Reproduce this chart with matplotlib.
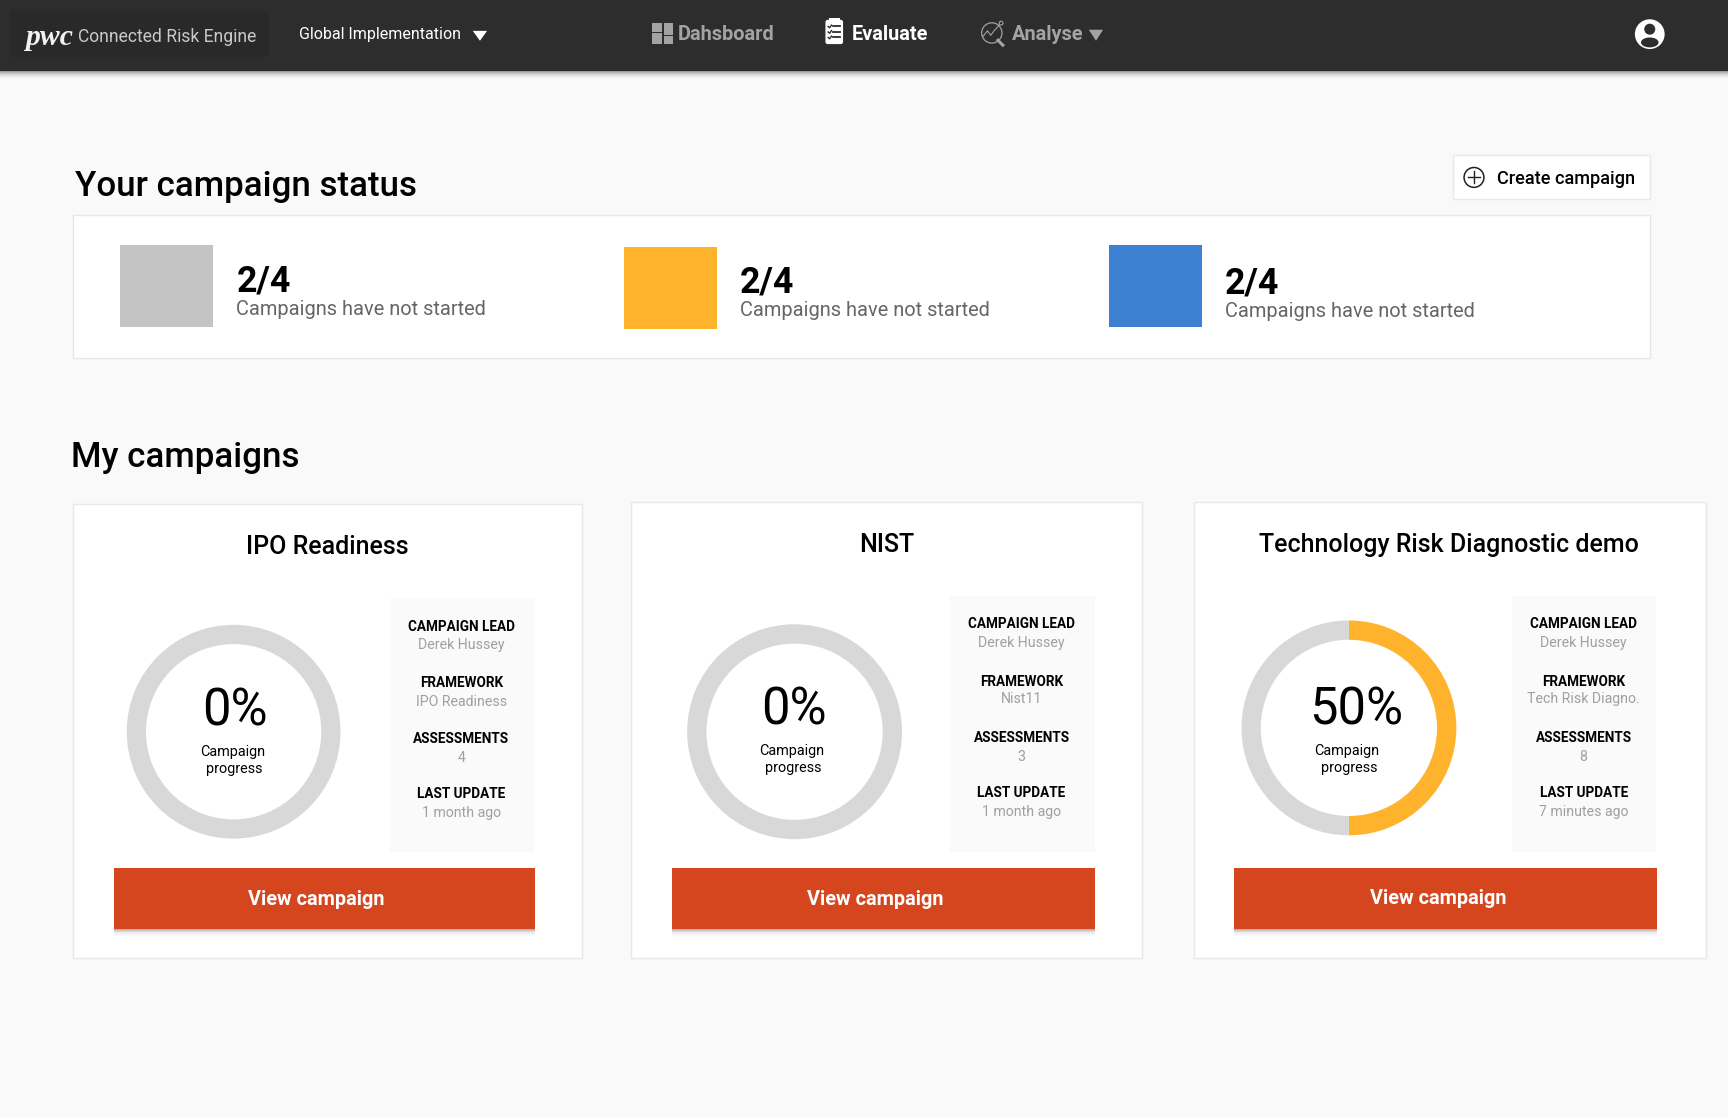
import matplotlib
matplotlib.use("Agg")
import matplotlib.pyplot as plt
from matplotlib.patches import Rectangle, Circle, Polygon, FancyBboxPatch, Ellipse

# ---------- data ----------
status_values = ["2/4", "2/4", "2/4"]
status_labels = ["Campaigns have not started"] * 3
status_colors = ["#c4c4c4", "#ffb32c", "#3d7fd0"]
campaign_titles = ["IPO Readiness", "NIST", "Technology Risk Diagnostic demo"]
campaign_progress = [0, 0, 50]
campaign_leads = ["Derek Hussey", "Derek Hussey", "Derek Hussey"]
campaign_frameworks = ["IPO Readiness", "Nist11", "Tech Risk Diagno."]
campaign_assessments = ["4", "3", "8"]
campaign_updates = ["1 month ago", "1 month ago", "7 minutes ago"]
detail_heads = ["CAMPAIGN LEAD", "FRAMEWORK", "ASSESSMENTS", "LAST UPDATE"]

# ---------- layout (reference picture units, 1568 wide) ----------
W, H = 1568, 1013.6
S = 1728 / W
status_layout = [(109, 222.5, 214.5, 252.5, 280), (566, 224, 671.5, 253.5, 281), (1006, 222.5, 1111.5, 254.5, 282)]
cards = [
    dict(r=(66, 457, 462, 412), t=(297, 494), d=(212, 664, 97), p=(213, 641), c=(211, 681), g=(213, 696),
         box=(354, 543, 131, 230), cx=418.5, rows=[567, 584, 618, 635, 669, 686, 719, 736],
         b=(103, 788, 382.5, 55), bt=(287, 815)),
    dict(r=(572, 455, 465, 414), t=(805, 492), d=(721, 664, 97.5), p=(720, 640), c=(718, 680), g=(720, 695),
         box=(862, 541, 132, 232), cx=927, rows=[565, 582, 617, 633, 668, 685, 718, 735],
         b=(609.5, 788, 384.5, 55), bt=(794, 815)),
    dict(r=(1083, 455, 465, 414), t=(1315, 492), d=(1224, 660.5, 97.5), p=(1231, 640), c=(1222, 680), g=(1224, 695),
         box=(1372, 541, 131, 232), cx=1437, rows=[565, 582, 617, 633, 668, 685, 718, 735],
         b=(1120, 788, 384, 55), bt=(1305, 814)),
]

plt.rcParams["font.family"] = "Roboto"
fig = plt.figure(figsize=(17.28, 11.17), dpi=100, facecolor="#f9f9f9")
ax = fig.add_axes([0, 0, 1, 1])
ax.set_xlim(0, W)
ax.set_ylim(H, 0)
ax.axis("off")


def fs(px):
    return px * S * 0.72


def T(x, y, s, px, color="black", weight="normal", ha="center", **kw):
    return ax.text(x, y + px * 0.085, s, fontsize=fs(px), color=color, fontweight=weight,
                   ha=ha, va="center", **kw)


def R(x, y, w, h, fc, ec="none", lw=1, z=1, alpha=None):
    ax.add_patch(Rectangle((x, y), w, h, fc=fc, ec=ec, lw=lw, zorder=z, alpha=alpha))


def shadow(x, y, w, h, z=1):
    for d, a in [(6, 0.02), (5, 0.03), (4, 0.04), (3, 0.06), (2, 0.08), (1, 0.10)]:
        R(x, y + h - 1, w, d + 1, "black", z=z, alpha=a)


# header
for d, a in [(7, 0.02), (6, 0.03), (5, 0.04), (4, 0.05), (3, 0.07), (2, 0.09), (1, 0.12)]:
    R(0, 64, W, d, "black", alpha=a)
R(0, 0, W, 64.5, "#2d2d2d", z=2)
R(9, 10, 235, 42, "#292929", z=2)
T(45, 32, "pwc", 27, color="#f2f2f2", weight="bold", family="Liberation Serif", style="italic", zorder=3)
T(71, 32.5, "Connected Risk Engine", 15.9, color="#c9c9c9", ha="left", zorder=3)
T(271, 30.5, "Global Implementation", 14.5, color="white", ha="left", zorder=3)
ax.add_patch(Polygon([(429, 28), (442, 28), (435.5, 37)], fc="white", zorder=3))
# dashboard icon
for (x, y, w, h) in [(592, 21.3, 9, 7.7), (592, 30, 9, 9.5), (602.5, 21.3, 8, 10.5), (602.5, 33, 8, 6.5)]:
    R(x, y, w, h, "#a3a3a3", z=3)
T(615, 30, "Dahsboard", 18.1, color="#a3a3a3", weight="bold", ha="left", zorder=3)
# clipboard icon
ax.add_patch(FancyBboxPatch((749, 18), 16, 22, boxstyle="round,pad=0,rounding_size=2", fc="white", ec="none", zorder=3))
R(752, 16, 10, 3.5, "white", z=3)
for yy in [24, 29, 34]:
    ax.plot([756, 762], [yy, yy], color="#2d2d2d", lw=1.3, zorder=4)
    ax.plot([751.5, 752.8, 754.5], [yy, yy + 1.2, yy - 1.2], color="#2d2d2d", lw=1, zorder=4)
T(773, 30, "Evaluate", 18, color="white", weight="bold", ha="left", zorder=3)
# analyse icon
ax.add_patch(Circle((900, 29.9), 9.2, fc="none", ec="#a3a3a3", lw=0.9, zorder=3))
ax.plot([892, 896, 899, 902, 908.4], [33, 28, 32, 28, 21], color="#a3a3a3", lw=0.8, zorder=3)
ax.plot([905.5, 910], [36.5, 41], color="#a3a3a3", lw=2.2, zorder=3)
ax.add_patch(Circle((908.4, 21), 1.7, fc="#2d2d2d", ec="#a3a3a3", lw=0.8, zorder=3))
T(918, 30, "Analyse", 18.2, color="#a3a3a3", weight="bold", ha="left", zorder=3)
ax.add_patch(Polygon([(988, 27), (1001, 27), (994.5, 37)], fc="#a3a3a3", zorder=3))
# user icon
ax.add_patch(Circle((1497, 31), 13.5, fc="white", zorder=3))
ax.add_patch(Circle((1497, 26.5), 5, fc="#2d2d2d", zorder=4))
ax.add_patch(Ellipse((1497, 38.5), 16, 9, fc="#2d2d2d", zorder=4))

# section titles
T(68, 166.5, "Your campaign status", 31.7, weight="medium", ha="left")
T(64.5, 412.5, "My campaigns", 31.7, weight="medium", ha="left")

# create button
R(1318.5, 140.5, 179, 40, "white", ec="#e8e8e8")
ax.add_patch(Circle((1337.5, 161), 9, fc="none", ec="#222222", lw=1.1, zorder=3))
ax.plot([1332, 1343], [161, 161], color="#222222", lw=1, zorder=3)
ax.plot([1337.5, 1337.5], [155.5, 166.5], color="#222222", lw=1, zorder=3)
T(1358, 161, "Create campaign", 16.5, weight="medium", ha="left")

# status panel
R(66.5, 195.5, 1431, 129, "white", ec="#e6e6e6")
for val, lab, col, (bx, by, tx, vy, ly) in zip(status_values, status_labels, status_colors, status_layout):
    R(bx, by, 84.5, 74.5, col, z=2)
    T(tx, vy, val, 32.5, weight="bold", ha="left")
    T(tx, ly - 1, lab, 18.2, color="#666666", ha="left")

# campaign cards
ACC, TRACK = "#ffb32c", "#d8d8d8"
for i, c in enumerate(cards):
    x, y, w, h = c["r"]
    R(x + .2, y + .5, w - .5, h, "white", ec="#e8e8e8")
    T(c["t"][0], c["t"][1] + 0.5, campaign_titles[i], 22.7, weight="medium")
    bx, by, bw, bh = c["box"]
    R(bx, by, bw, bh, "#fafafa", z=2)
    vals = [campaign_leads[i], campaign_frameworks[i], campaign_assessments[i], campaign_updates[i]]
    for j, (hd, v) in enumerate(zip(detail_heads, vals)):
        T(c["cx"], c["rows"][2 * j] + 0.5, hd, 12.3, weight="bold", zorder=3)
        T(c["cx"], c["rows"][2 * j + 1] + 0.5, v, 12.8, color="#a0a0a0", zorder=3)
    # donut
    dx, dy, dr = c["d"]
    pa = fig.add_axes([(dx - dr) / W, 1 - (dy + dr) / H, 2 * dr / W, 2 * dr / H])
    p = campaign_progress[i]
    pa.pie([p, 100 - p], colors=[ACC, TRACK], startangle=90, counterclock=False, radius=1,
           wedgeprops=dict(width=0.18, linewidth=0))
    pa.set_xlim(-1, 1)
    pa.set_ylim(-1, 1)
    pa.patch.set_alpha(0)
    T(c["p"][0], c["p"][1] + 1, f"{p}%", 46)
    T(c["c"][0], c["c"][1] + 0.5, "Campaign", 13)
    T(c["g"][0], c["g"][1] + 0.5, "progress", 13)
    # button
    bx, by, bw, bh = c["b"]
    shadow(bx, by, bw, bh, z=2)
    R(bx, by, bw, bh, "#d6461e", z=3)
    T(c["bt"][0], c["bt"][1], "View campaign", 18, color="white", weight="bold", zorder=4)

fig.savefig("out.png", dpi=100, facecolor=fig.get_facecolor())
